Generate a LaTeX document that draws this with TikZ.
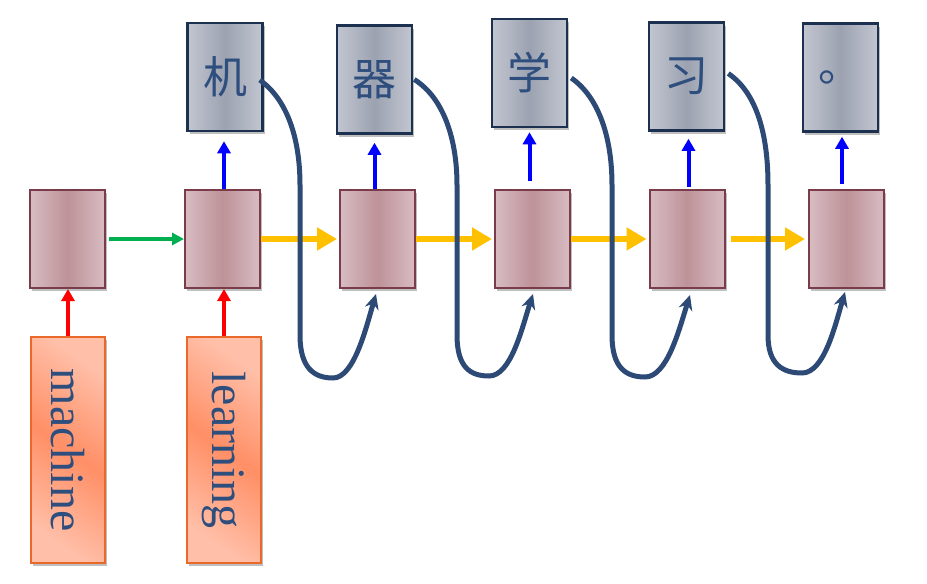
\documentclass[tikz,border=0pt]{standalone}
\usepackage{fontspec}
\setmainfont{Liberation Serif}
\newfontfamily\cjk{Noto Sans CJK SC}
\usetikzlibrary{arrows.meta,shadows}
\definecolor{mBorder}{HTML}{7A3B4B}
\definecolor{mLight}{HTML}{D7BCC2}
\definecolor{mDark}{HTML}{BE9299}
\definecolor{gBorder}{HTML}{1C3050}
\definecolor{gLight}{HTML}{C2C6D0}
\definecolor{gDark}{HTML}{9CA2B1}
\definecolor{oBorder}{HTML}{E8692A}
\definecolor{oLight}{HTML}{FFBFA8}
\definecolor{oDark}{HTML}{FF8F66}
\definecolor{txtBlue}{HTML}{2E4E7E}
\definecolor{curveBlue}{HTML}{2C4A75}
\definecolor{yel}{HTML}{FFC000}
\definecolor{grn}{HTML}{00B050}
\begin{document}
\begin{tikzpicture}[x=1pt,y=-1pt,
  shd/.style={drop shadow={shadow xshift=2pt,shadow yshift=-3pt,opacity=0.25,fill=black}},
  hidbox/.style={shd,draw=mBorder,line width=2pt,left color=mLight,right color=mLight,middle color=mDark,
    minimum width=75pt,minimum height=98pt,inner sep=0pt},
  outbox/.style={shd,draw=gBorder,line width=2.5pt,left color=gLight,right color=gLight,middle color=gDark,
    minimum width=75pt,minimum height=108pt,inner sep=0pt},
  inbox/.style={shd,draw=oBorder,line width=2pt,top color=oLight,bottom color=oLight,middle color=oDark,shading angle=-35,
    minimum width=74pt,minimum height=226pt,inner sep=0pt},
  wordtxt/.style={text=txtBlue,font=\fontsize{48}{50}\selectfont,rotate=-90},
  cjktxt/.style={text=txtBlue,font=\cjk\fontsize{44}{46}\selectfont},
  redarr/.style={draw=red,line width=3.5pt,-{Triangle[length=12pt,width=13pt]}},
  grnarr/.style={draw=grn,line width=4pt,-{Triangle[length=12pt,width=12pt]}},
  yelarr/.style={draw=yel,line width=6.5pt,-{Triangle[length=20pt,width=22pt]}},
  bluarr/.style={draw=blue,line width=4pt,-{Triangle[length=12pt,width=13pt]}},
  curve/.style={draw=curveBlue,line width=5pt,-{Stealth[length=15pt,width=14pt]}}]
\useasboundingbox (0,0) rectangle (927,584);

% hidden boxes
\node[hidbox] (A0) at (67.5,239) {};
\node[hidbox] (A1) at (222.5,239) {};
\node[hidbox] (A2) at (377.5,239) {};
\node[hidbox] (A3) at (532.5,239) {};
\node[hidbox] (A4) at (687,239) {};
\node[hidbox] (A5) at (846.5,239) {};

% output boxes
\node[outbox] (T1) at (225,77) {};
\node[outbox] (T2) at (374.5,79.5) {};
\node[outbox] (T3) at (529.5,73) {};
\node[outbox] (T4) at (686.5,76.5) {};
\node[outbox] (T5) at (840.5,77.5) {};
\node[cjktxt] (C1) at (T1) {机};
\node[cjktxt] (C2) at (T2) {器};
\node[cjktxt] (C3) at (T3) {学};
\node[cjktxt] (C4) at (T4) {习};
\node[cjktxt] (C5) at (T5) {。};

% input boxes
\node[inbox] (I0) at (68,450) {};
\node[inbox] (I1) at (224,450) {};
\node[wordtxt] (W0) at (I0) {machine};
\node[wordtxt] (W1) at (I1) {learning};

% input arrows
\draw[redarr] (I0.north) -- (I0.north |- A0.south);
\draw[redarr] (I1.north) -- (I1.north |- A1.south);

% horizontal arrows
\draw[grnarr] ([xshift=3pt]A0.east) -- (A1.west);
\draw[yelarr] (A1.east) -- ([xshift=-2pt]A2.west);
\draw[yelarr] (A2.east) -- ([xshift=-2pt]A3.west);
\draw[yelarr] (A3.east) -- ([xshift=-2pt]A4.west);
\draw[yelarr] ([xshift=5pt]A4.east) -- ([xshift=-3pt]A5.west);

% output arrows
\draw[bluarr] ([xshift=-1pt]T1.south |- A1.north) -- ([xshift=-1pt,yshift=-9pt]T1.south);
\draw[bluarr] (T2.south |- A2.north) -- ([yshift=-8pt]T2.south);
\draw[bluarr] ([yshift=8pt]T3.south |- A3.north) -- ([yshift=-4pt]T3.south);
\draw[bluarr] ([xshift=2pt,yshift=2pt]T4.south |- A4.north) -- ([xshift=2pt,yshift=-7pt]T4.south);
\draw[bluarr] ([xshift=1.5pt,yshift=5pt]T5.south |- A5.north) -- ([xshift=1.5pt,yshift=-4pt]T5.south);

% feedback curves
\draw[curve] ([xshift=-4pt,yshift=-3pt]T1.east) .. controls (288,100) and (300,140) .. (300,185)
  -- (300,335) .. controls (300,368) and (314,378) .. (333,378)
  .. controls (354,378) and (366,328) .. ([xshift=-1.5pt,yshift=-5pt]A2.south);
\draw[curve] ([xshift=1pt]T2.east) .. controls (444,98) and (457,140) .. (457,185)
  -- (457,335) .. controls (457,367) and (470,376) .. (489,376)
  .. controls (511,376) and (522,328) .. ([xshift=0.5pt,yshift=-5pt]A3.south);
\draw[curve] ([xshift=3pt,yshift=-5pt]T3.east) .. controls (600,98) and (612,140) .. (612,185)
  -- (612,335) .. controls (612,368) and (626,377) .. (645,377)
  .. controls (667,377) and (679,330) .. ([xshift=3pt,yshift=-6pt]A4.south);
\draw[curve] ([xshift=3pt,yshift=3pt]T4.east) .. controls (757,93) and (768,135) .. (768,185)
  -- (768,335) .. controls (768,364) and (782,373) .. (802,373)
  .. controls (824,373) and (835,326) .. ([xshift=-1.5pt,yshift=-3pt]A5.south);
\end{tikzpicture}
\end{document}
